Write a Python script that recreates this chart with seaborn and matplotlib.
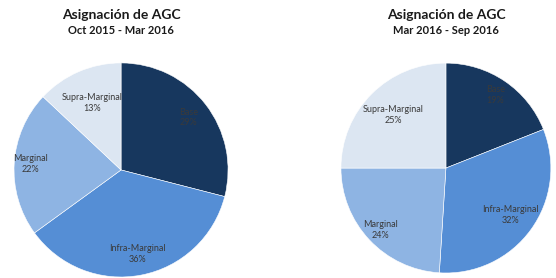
import matplotlib
matplotlib.use("Agg")
from matplotlib import pyplot as plt
import seaborn as sns
import numpy as np

categories = ["Base", "Infra-Marginal", "Marginal", "Supra-Marginal"]
share_oct15_mar16 = [29, 36, 22, 13]
share_mar16_sep16 = [19, 32, 24, 25]
titles = ["Asignación de AGC", "Asignación de AGC"]
periods = ["Oct 2015 - Mar 2016", "Mar 2016 - Sep 2016"]
colors = ["#17375E", "#558ED5", "#8EB4E3", "#DCE6F2"]

sns.set_theme(style="white")
plt.rcParams["font.family"] = ["Lato", "DejaVu Sans"]

fig = plt.figure(figsize=(5.56, 2.78), dpi=100)
fig.patch.set_facecolor("white")

# axes boxes placed where the two pies sit in the reference
boxes = [[0.0252, 0.0036, 0.385, 0.77], [0.613, 0.018, 0.378, 0.755]]
title_x = [121 / 556, 446 / 556]
# how far out each wedge label sits (fraction of radius)
label_dist = [[0.80, 0.80, 0.85, 0.68], [0.84, 0.76, 0.86, 0.71]]

for i, values in enumerate([share_oct15_mar16, share_mar16_sep16]):
    ax = fig.add_axes(boxes[i])
    labels = [f"{c}\n{v}%" for c, v in zip(categories, values)]
    wedges, texts = ax.pie(
        values, labels=labels, colors=colors, startangle=90, counterclock=False,
        labeldistance=1.0,
        wedgeprops=dict(edgecolor="white", linewidth=0.4),
        textprops=dict(fontsize=6.5, color="#3a3a3a", ha="center", va="center",
                       linespacing=1.25),
    )
    for t, d in zip(texts, label_dist[i]):
        x, y = t.get_position()
        t.set_position((x * d, y * d))
    ax.set_xlim(-1, 1)
    ax.set_ylim(-1, 1)
    ax.set_aspect("equal")

    fig.text(title_x[i], 1 - 15 / 278, titles[i], ha="center", va="center",
             fontsize=10, fontweight="bold", color="#1a1a1a")
    fig.text(title_x[i], 1 - 31 / 278, periods[i], ha="center", va="center",
             fontsize=8, fontweight="bold", color="#1a1a1a")

fig.savefig("out.png", dpi=100, facecolor="white")
